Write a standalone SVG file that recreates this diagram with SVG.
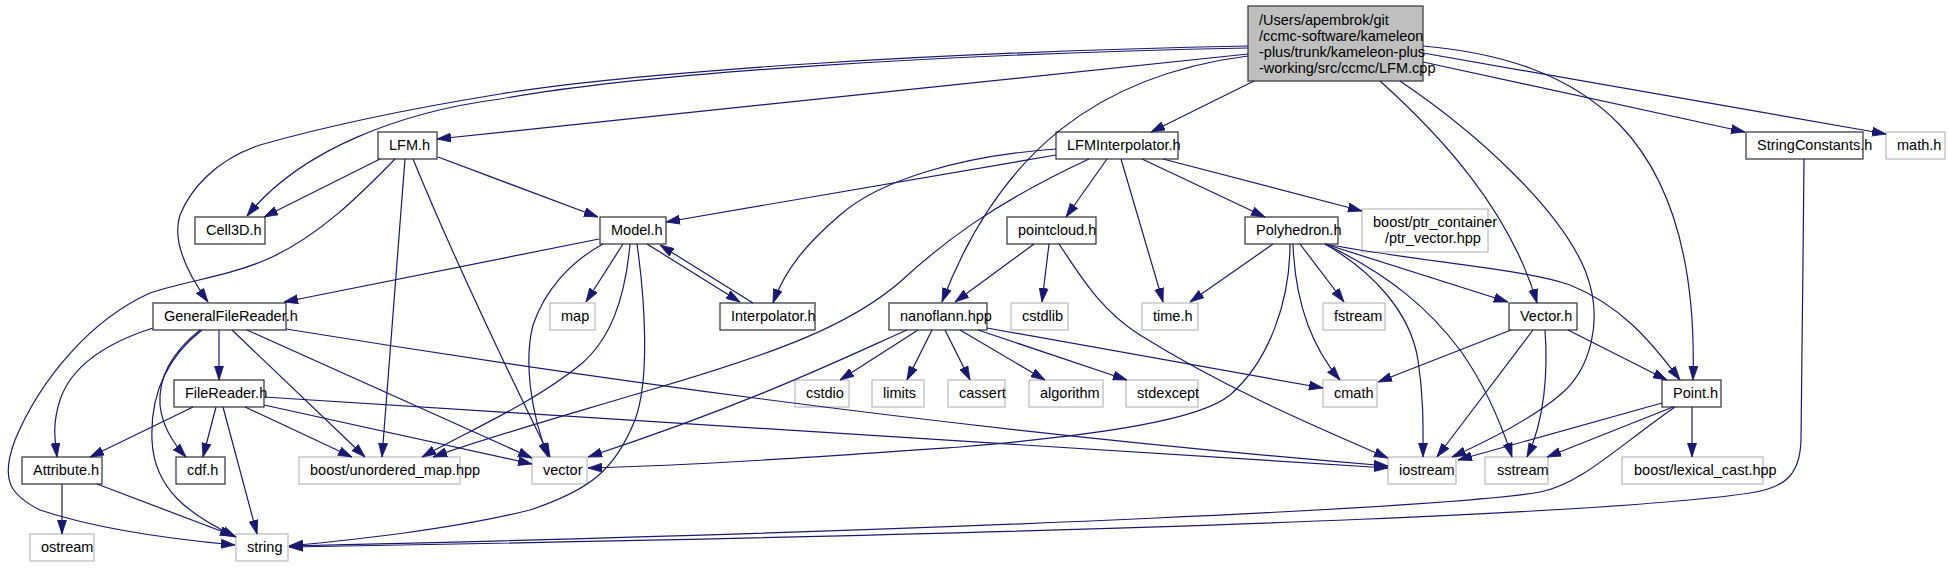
<svg xmlns="http://www.w3.org/2000/svg" width="1949" height="568" viewBox="0 0 1949 568">
<style>
text{font-family:"Liberation Sans",Arial,Helvetica,sans-serif;font-size:14.5px;fill:#000}
.n rect{fill:#fff;stroke:#404040;stroke-width:1.3}
.x rect{fill:#fff;stroke:#bfbfbf;stroke-width:1.3}
.r rect{fill:#bfbfbf;stroke:#404040;stroke-width:1.3}
#edges path{fill:none;stroke:#191970;stroke-width:1.2;marker-end:url(#a)}
</style>
<defs>
<marker id="a" markerUnits="userSpaceOnUse" viewBox="0 0 14 10" refX="14" refY="5" markerWidth="14" markerHeight="10" orient="auto">
<path d="M0,0.5 L14,5 L0,9.5 z" fill="#191970" stroke="#191970" stroke-width="0.8"/>
</marker>
</defs>
<rect width="1949" height="568" fill="#fff"/>
<g id="nodes">
<g id="root" class="r"><rect x="1248" y="6" width="175" height="75"/><text x="1259" y="25">/Users/apembrok/git</text><text x="1259" y="41">/ccmc-software/kameleon</text><text x="1259" y="57">-plus/trunk/kameleon-plus</text><text x="1259" y="73">-working/src/ccmc/LFM.cpp</text></g>
<g id="LFM_h" class="n"><rect x="378" y="132" width="59" height="27"/><text x="389" y="150">LFM.h</text></g>
<g id="Cell3D_h" class="n"><rect x="195" y="217" width="70" height="27"/><text x="206" y="235">Cell3D.h</text></g>
<g id="Model_h" class="n"><rect x="600" y="217" width="66" height="27"/><text x="611" y="235">Model.h</text></g>
<g id="LFMInterpolator_h" class="n"><rect x="1056" y="132" width="122" height="27"/><text x="1067" y="150">LFMInterpolator.h</text></g>
<g id="pointcloud_h" class="n"><rect x="1007" y="217" width="89" height="27"/><text x="1018" y="235">pointcloud.h</text></g>
<g id="Polyhedron_h" class="n"><rect x="1245" y="217" width="93" height="27"/><text x="1256" y="235">Polyhedron.h</text></g>
<g id="ptr_vector" class="x"><rect x="1362" y="209" width="126" height="43"/><text x="1373" y="227">boost/ptr_container</text><text x="1385" y="243">/ptr_vector.hpp</text></g>
<g id="StringConstants_h" class="n"><rect x="1746" y="132" width="117" height="27"/><text x="1757" y="150">StringConstants.h</text></g>
<g id="math_h" class="x"><rect x="1886" y="132" width="59" height="27"/><text x="1897" y="150">math.h</text></g>
<g id="GeneralFileReader_h" class="n"><rect x="153" y="303" width="133" height="27"/><text x="164" y="321">GeneralFileReader.h</text></g>
<g id="map" class="x"><rect x="550" y="303" width="45" height="27"/><text x="561" y="321">map</text></g>
<g id="Interpolator_h" class="n"><rect x="720" y="303" width="95" height="27"/><text x="731" y="321">Interpolator.h</text></g>
<g id="nanoflann_hpp" class="n"><rect x="889" y="303" width="98" height="27"/><text x="900" y="321">nanoflann.hpp</text></g>
<g id="cstdlib" class="x"><rect x="1011" y="303" width="57" height="27"/><text x="1022" y="321">cstdlib</text></g>
<g id="time_h" class="x"><rect x="1142" y="303" width="56" height="27"/><text x="1153" y="321">time.h</text></g>
<g id="fstream" class="x"><rect x="1323" y="303" width="62" height="27"/><text x="1334" y="321">fstream</text></g>
<g id="Vector_h" class="n"><rect x="1509" y="303" width="68" height="27"/><text x="1520" y="321">Vector.h</text></g>
<g id="FileReader_h" class="n"><rect x="174" y="380" width="90" height="27"/><text x="185" y="398">FileReader.h</text></g>
<g id="cstdio" class="x"><rect x="795" y="380" width="54" height="27"/><text x="806" y="398">cstdio</text></g>
<g id="limits" class="x"><rect x="872" y="380" width="52" height="27"/><text x="883" y="398">limits</text></g>
<g id="cassert" class="x"><rect x="948" y="380" width="57" height="27"/><text x="959" y="398">cassert</text></g>
<g id="algorithm" class="x"><rect x="1029" y="380" width="74" height="27"/><text x="1040" y="398">algorithm</text></g>
<g id="stdexcept" class="x"><rect x="1126" y="380" width="72" height="27"/><text x="1137" y="398">stdexcept</text></g>
<g id="cmath" class="x"><rect x="1323" y="380" width="54" height="27"/><text x="1334" y="398">cmath</text></g>
<g id="Point_h" class="n"><rect x="1662" y="380" width="59" height="27"/><text x="1673" y="398">Point.h</text></g>
<g id="Attribute_h" class="n"><rect x="22" y="457" width="80" height="27"/><text x="33" y="475">Attribute.h</text></g>
<g id="cdf_h" class="n"><rect x="176" y="457" width="49" height="27"/><text x="187" y="475">cdf.h</text></g>
<g id="unordered_map" class="x"><rect x="299" y="457" width="161" height="27"/><text x="310" y="475">boost/unordered_map.hpp</text></g>
<g id="vector" class="x"><rect x="532" y="457" width="55" height="27"/><text x="543" y="475">vector</text></g>
<g id="iostream" class="x"><rect x="1388" y="457" width="68" height="27"/><text x="1399" y="475">iostream</text></g>
<g id="sstream" class="x"><rect x="1485" y="457" width="63" height="27"/><text x="1497" y="475">sstream</text></g>
<g id="lexical_cast" class="x"><rect x="1622" y="457" width="141" height="27"/><text x="1634" y="475">boost/lexical_cast.hpp</text></g>
<g id="ostream" class="x"><rect x="30" y="534" width="64" height="27"/><text x="41" y="552">ostream</text></g>
<g id="string" class="x"><rect x="236" y="534" width="52" height="27"/><text x="247" y="552">string</text></g>
</g>
<g id="edges">
<path d="M1248,54 L437,139"/>
<path d="M1248,48 C950,54 650,72 500,99 C400,112 300,150 247,216"/>
<path d="M1248,46 C950,52 650,70 500,94 C420,107 330,125 260,145 C215,160 190,190 180,215 C172,240 185,270 208,302"/>
<path d="M1254,81 L1151,132"/>
<path d="M1248,56 C1100,75 1000,150 942,302"/>
<path d="M1423,62 L1745,132"/>
<path d="M1423,53 L1886,134"/>
<path d="M1380,81 C1440,135 1510,210 1537,303"/>
<path d="M1423,46 C1580,60 1700,130 1693,380"/>
<path d="M1400,81 C1480,135 1560,210 1585,270 C1605,320 1590,370 1560,395 C1530,420 1490,440 1452,457"/>
<path d="M380,159 L264,217"/>
<path d="M438,157 L598,217"/>
<path d="M395,159 C360,195 320,235 270,258 C230,276 190,280 150,293 C90,320 40,380 15,440 C0,480 10,495 40,510 C100,530 180,540 235,545"/>
<path d="M405,159 L382,457"/>
<path d="M413,159 C440,225 490,335 550,457"/>
<path d="M1056,155 L666,222"/>
<path d="M1056,149 C960,156 880,180 840,215 C805,245 785,270 773,303"/>
<path d="M1089,159 C990,205 940,245 900,282 C850,325 780,352 650,390 C560,417 485,438 433,457"/>
<path d="M1107,159 L1066,217"/>
<path d="M1121,159 L1163,302"/>
<path d="M1142,159 L1265,217"/>
<path d="M1163,159 L1362,211"/>
<path d="M599,239 L284,302"/>
<path d="M623,244 L586,302"/>
<path d="M647,244 L740,302"/>
<path d="M603,244 C570,262 545,290 533,325 C524,360 530,410 548,457"/>
<path d="M630,244 C625,300 610,340 580,365 C530,405 470,430 422,457"/>
<path d="M637,244 C645,300 650,380 635,420 C615,470 590,490 530,510 C450,530 350,540 289,546"/>
<path d="M753,303 L660,245"/>
<path d="M219,330 L219,380"/>
<path d="M153,328 C100,345 70,370 60,400 C52,425 55,440 57,457"/>
<path d="M200,330 C175,350 158,375 160,405 C162,425 172,442 186,457"/>
<path d="M202,330 C170,355 150,390 152,440 C154,490 190,515 236,537"/>
<path d="M232,330 L365,457"/>
<path d="M247,330 L532,458"/>
<path d="M286,329 C550,372 950,430 1388,466"/>
<path d="M193,407 L90,457"/>
<path d="M216,407 L203,457"/>
<path d="M223,407 L257,534"/>
<path d="M245,407 L352,457"/>
<path d="M264,405 L532,464"/>
<path d="M264,397 L1388,468"/>
<path d="M62,484 L62,534"/>
<path d="M97,484 L234,536"/>
<path d="M1034,244 L955,302"/>
<path d="M1049,244 L1042,302"/>
<path d="M1059,244 C1080,275 1100,310 1140,335 C1220,385 1300,420 1388,458"/>
<path d="M907,330 C850,355 760,400 588,457"/>
<path d="M918,330 L840,380"/>
<path d="M932,330 L907,380"/>
<path d="M945,330 L970,380"/>
<path d="M960,330 L1045,380"/>
<path d="M978,330 L1127,380"/>
<path d="M987,328 L1323,388"/>
<path d="M1273,244 L1190,302"/>
<path d="M1300,244 L1344,302"/>
<path d="M1293,244 C1295,300 1310,345 1340,380"/>
<path d="M1290,244 C1290,300 1270,360 1230,395 C1200,420 1100,435 960,447 C800,458 700,465 588,468"/>
<path d="M1325,244 C1370,270 1410,310 1418,360 C1424,400 1423,430 1423,457"/>
<path d="M1325,244 C1390,275 1430,310 1460,350 C1485,385 1500,420 1512,457"/>
<path d="M1325,244 L1508,302"/>
<path d="M1325,244 C1420,262 1520,268 1570,285 C1620,305 1650,340 1680,380"/>
<path d="M1511,330 L1378,382"/>
<path d="M1533,330 L1437,457"/>
<path d="M1545,330 C1548,370 1545,420 1527,457"/>
<path d="M1568,330 L1667,380"/>
<path d="M1662,403 L1458,460"/>
<path d="M1673,407 L1547,457"/>
<path d="M1692,407 L1692,457"/>
<path d="M1675,407 C1620,445 1580,485 1540,492 C1460,506 1000,530 289,546"/>
<path d="M1804,159 C1803,250 1802,380 1801,440 C1800,475 1785,488 1750,493 C1650,508 1300,530 289,547"/>
</g>
</svg>
